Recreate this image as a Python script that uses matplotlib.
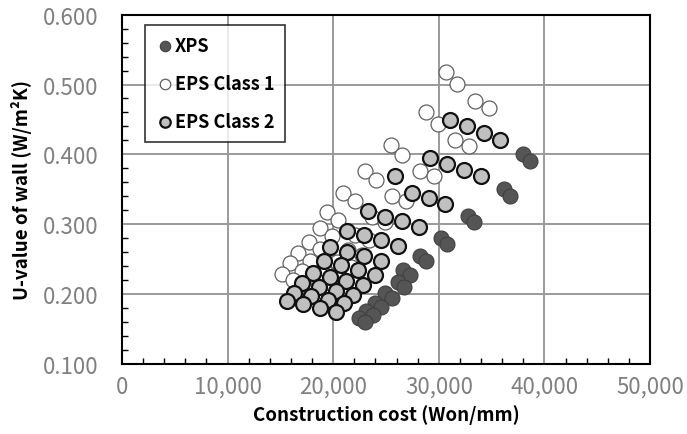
import matplotlib
matplotlib.use("Agg")
import matplotlib.pyplot as plt
from matplotlib.ticker import MultipleLocator, FuncFormatter

plt.rcParams['font.family'] = ['Noto Sans CJK KR', 'DejaVu Sans']

# XPS
xps_cost = [37960, 38590, 36130, 36700, 32760, 33360, 30200, 30770, 28190, 28820, 26610,
            27240, 26110, 26670, 24910, 25540, 23980, 24560, 23150, 23740, 22440, 23000]
xps_u = [0.400, 0.390, 0.351, 0.341, 0.312, 0.303, 0.281, 0.272, 0.255, 0.248, 0.235,
         0.227, 0.217, 0.210, 0.201, 0.194, 0.187, 0.181, 0.176, 0.170, 0.166, 0.160]

# EPS Class 1
eps1_cost = [30650, 31750, 33390, 34710, 28750, 29920, 31500, 32850,
             25440, 26550, 28190, 29510, 22990, 24030, 25610, 26930,
             20900, 22040, 23680, 24940, 19420, 20480, 22090, 23360,
             18730, 19930, 21380, 22700, 17720, 18730, 20340, 21660,
             16680, 17780, 19300, 20620, 15890, 17000, 18540, 19860,
             15110, 16200, 17780, 19010]
eps1_u = [0.518, 0.501, 0.476, 0.467, 0.460, 0.444, 0.420, 0.412,
          0.413, 0.399, 0.376, 0.369, 0.376, 0.363, 0.340, 0.333,
          0.345, 0.333, 0.310, 0.303, 0.318, 0.306, 0.284, 0.277,
          0.294, 0.283, 0.263, 0.256, 0.275, 0.264, 0.246, 0.239,
          0.259, 0.247, 0.230, 0.223, 0.244, 0.233, 0.217, 0.210,
          0.229, 0.220, 0.204, 0.197]

# EPS Class 2
eps2_cost = [31090, 32660, 34240, 35820, 29200, 30770, 32420, 33990,
             25820, 27430, 29040, 30620, 23300, 24910, 26480, 28090,
             21310, 22890, 24500, 26110, 19740, 21310, 22920, 24560,
             19170, 20780, 22390, 23960, 18100, 19670, 21250, 22820,
             17090, 18660, 20310, 21880, 16300, 17880, 19460, 21030,
             15580, 17150, 18730, 20310]
eps2_u = [0.449, 0.440, 0.430, 0.420, 0.395, 0.386, 0.378, 0.369,
          0.369, 0.345, 0.337, 0.329, 0.319, 0.311, 0.304, 0.296,
          0.291, 0.284, 0.277, 0.269, 0.268, 0.260, 0.255, 0.247,
          0.247, 0.241, 0.235, 0.228, 0.230, 0.225, 0.219, 0.213,
          0.216, 0.210, 0.204, 0.199, 0.201, 0.198, 0.192, 0.187,
          0.190, 0.186, 0.180, 0.175]

fig = plt.figure(figsize=(6.87, 4.35), dpi=100)
ax = fig.add_axes([0.1776, 0.161, 0.7686, 0.803])

ms = 116
ax.scatter(xps_cost, xps_u, s=ms, c='#555555', edgecolors='#404040', linewidths=0.8,
           label='XPS', zorder=3)
ax.scatter(eps1_cost, eps1_u, s=ms, c='white', edgecolors='#606060', linewidths=0.9,
           label='EPS Class 1', zorder=3)
ax.scatter(eps2_cost, eps2_u, s=ms, c='#c0c0c0', edgecolors='#111111', linewidths=1.6,
           label='EPS Class 2', zorder=3)

ax.set_xlim(0, 50000)
ax.set_ylim(0.1, 0.6)
ax.xaxis.set_major_locator(MultipleLocator(10000))
ax.xaxis.set_minor_locator(MultipleLocator(2000))
ax.yaxis.set_major_locator(MultipleLocator(0.1))
ax.yaxis.set_minor_locator(MultipleLocator(0.02))
ax.xaxis.set_major_formatter(FuncFormatter(lambda v, p: f"{v:,.0f}"))
ax.yaxis.set_major_formatter(FuncFormatter(lambda v, p: f"{v:.3f}"))

ax.grid(True, which='major', color='#9a9a9a', linewidth=1.4, zorder=0)
ax.tick_params(which='major', length=0, labelsize=16, labelcolor='#808080')
ax.tick_params(axis='y', which='major', pad=17)
ax.tick_params(axis='x', which='major', pad=8)
ax.tick_params(which='minor', direction='in', length=4, width=1, color='black')
for lbl in ax.get_xticklabels() + ax.get_yticklabels():
    lbl.set_fontweight('light')
for sp in ax.spines.values():
    sp.set_linewidth(1.5)
    sp.set_color('black')

ax.set_xlabel('Construction cost (Won/mm)', fontsize=13.5, fontweight='bold', labelpad=4)
ax.set_ylabel('U-value of wall (W/m²K)', fontsize=13.5, fontweight='bold', labelpad=8)

leg = ax.legend(loc='upper left', bbox_to_anchor=(0.043, 0.97), borderaxespad=0,
                fontsize=13, frameon=True, fancybox=False, edgecolor='black',
                markerscale=0.7, handletextpad=0.05, borderpad=0.6,
                labelspacing=1.05, handlelength=1.0)
leg.get_frame().set_linewidth(1.2)
for t in leg.get_texts():
    t.set_fontweight('bold')

fig.savefig('out.png', dpi=100)
